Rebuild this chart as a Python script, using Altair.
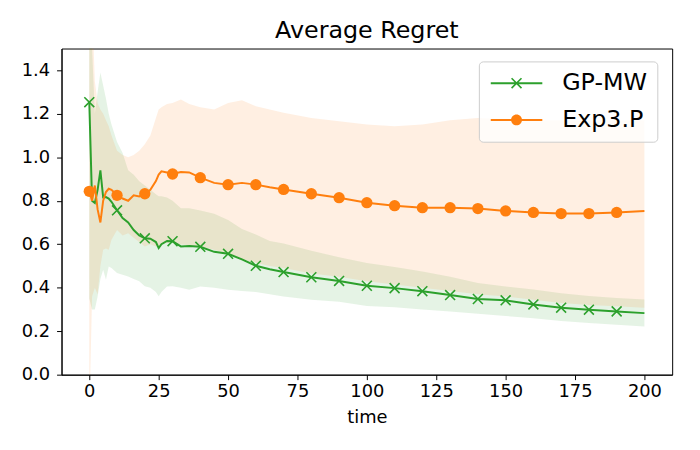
import altair as alt
import pandas as pd

# ---- data ----
times = [0, 1, 2, 3, 4, 5, 6, 7, 8, 10, 12, 14, 16, 18, 20, 22, 24, 25, 26, 28,
         30, 33, 36, 40, 45, 50, 55, 60, 65, 70, 80, 90, 100, 110, 120, 130,
         140, 150, 160, 170, 180, 190, 200]

gp_mean = [1.253, 0.80, 0.79, 0.85, 0.94, 0.815, 0.817, 0.81, 0.795, 0.756,
           0.72, 0.70, 0.665, 0.64, 0.627, 0.625, 0.61, 0.582, 0.60, 0.615,
           0.614, 0.59, 0.592, 0.588, 0.565, 0.556, 0.53, 0.501, 0.485, 0.472,
           0.448, 0.431, 0.409, 0.398, 0.384, 0.366, 0.348, 0.342, 0.323,
           0.308, 0.299, 0.291, 0.283]
gp_lo = [0.35, 0.30, 0.30, 0.36, 0.44, 0.483, 0.437, 0.498, 0.49, 0.468,
         0.46, 0.452, 0.44, 0.43, 0.407, 0.40, 0.38, 0.361, 0.38, 0.405,
         0.407, 0.40, 0.39, 0.405, 0.40, 0.39, 0.385, 0.38, 0.37, 0.36,
         0.345, 0.335, 0.316, 0.31, 0.30, 0.29, 0.28, 0.27, 0.26, 0.247,
         0.238, 0.23, 0.222]
gp_hi = [1.8, 1.5, 1.2, 1.3, 1.39, 1.33, 1.27, 1.2, 1.15, 1.07,
         1.02, 0.94, 0.92, 0.89, 0.87, 0.85, 0.83, 0.82, 0.82, 0.815,
         0.80, 0.765, 0.765, 0.755, 0.74, 0.711, 0.67, 0.645, 0.615, 0.603,
         0.57, 0.54, 0.513, 0.495, 0.475, 0.45, 0.422, 0.405, 0.392, 0.375,
         0.362, 0.353, 0.346]

exp_mean = [0.843, 0.80, 0.87, 0.76, 0.70, 0.80, 0.84, 0.855, 0.85, 0.825,
            0.81, 0.80, 0.825, 0.82, 0.832, 0.85, 0.89, 0.92, 0.935, 0.93,
            0.923, 0.932, 0.93, 0.906, 0.882, 0.874, 0.882, 0.874, 0.862, 0.852,
            0.832, 0.814, 0.791, 0.777, 0.768, 0.768, 0.764, 0.753, 0.746,
            0.741, 0.741, 0.746, 0.753]
exp_lo = [-0.2, 0.36, 0.40, 0.37, 0.50, 0.574, 0.58, 0.574, 0.62, 0.665,
          0.64, 0.65, 0.63, 0.61, 0.589, 0.60, 0.59, 0.59, 0.60, 0.605,
          0.605, 0.60, 0.595, 0.59, 0.575, 0.555, 0.53, 0.515, 0.50, 0.49,
          0.465, 0.45, 0.43, 0.415, 0.40, 0.385, 0.37, 0.36, 0.345, 0.33,
          0.32, 0.315, 0.308]
exp_hi = [1.8, 1.7, 1.35, 1.25, 1.22, 1.2, 1.17, 1.143, 1.1, 1.03,
          1.01, 1.00, 1.01, 1.03, 1.06, 1.10, 1.18, 1.22, 1.23, 1.245,
          1.25, 1.265, 1.245, 1.23, 1.22, 1.25, 1.262, 1.235, 1.22, 1.205,
          1.18, 1.165, 1.15, 1.143, 1.15, 1.17, 1.18, 1.175, 1.17, 1.17,
          1.17, 1.17, 1.17]

series_names = ["GP-MW", "Exp3.P"]
series_colors = ["#2ca02c", "#ff7f0e"]
x_ticks = [0, 25, 50, 75, 100, 125, 150, 175, 200]
y_ticks = [0.0, 0.2, 0.4, 0.6, 0.8, 1.0, 1.2, 1.4]

rows = []
for name, m, lo, hi in [("GP-MW", gp_mean, gp_lo, gp_hi),
                        ("Exp3.P", exp_mean, exp_lo, exp_hi)]:
    for t, a, b, c in zip(times, m, lo, hi):
        rows.append({"t": t, "series": name, "mean": a, "lo": b, "hi": c})
df = pd.DataFrame(rows)
color_of = dict(zip(series_names, series_colors))

FONT = "DejaVu Sans"
X_PATH = "M-1,-1L1,1M-1,1L1,-1"
# legend glyphs (unit = 10px): line segment + marker, drawn as filled outlines
LINE_SEG = "M-2.6,-0.1L2.6,-0.1L2.6,0.1L-2.6,0.1Z"
LEG_X = (LINE_SEG +
         "M-0.443,-0.557L0.557,0.443L0.443,0.557L-0.557,-0.443Z"
         "M-0.443,0.557L-0.557,0.443L0.443,-0.557L0.557,-0.443Z")
LEG_O = LINE_SEG + "M0.55,0A0.55,0.55,0,1,1,-0.55,0A0.55,0.55,0,1,1,0.55,0Z"

yscale = alt.Scale(domain=[0, 1.5], nice=False)
xs = alt.X("t:Q", title="time",
           scale=alt.Scale(domain=[-10, 210], nice=False, zero=False),
           axis=alt.Axis(values=x_ticks, labelFlush=False, labelOverlap=False,
                         labelPadding=3))
ys = alt.Y("mean:Q", title=None, scale=yscale,
           axis=alt.Axis(values=y_ticks, format=".1f", labelFlush=False,
                         labelOverlap=False, labelPadding=7))

base = alt.Chart(df)
marker_filter = "datum.t % 10 == 0 && datum.t < 200"

def sel(name):
    return base.transform_filter(alt.datum.series == name)

def band(name):
    return sel(name).mark_area(opacity=0.12, clip=True,
                               color=color_of[name]).encode(
        x=xs, y=alt.Y("lo:Q", scale=yscale), y2="hi:Q")

def line(name):
    return sel(name).mark_line(strokeWidth=2, clip=True,
                               color=color_of[name]).encode(x=xs, y=ys)

gp_pts = sel("GP-MW").transform_filter(marker_filter).mark_point(
    shape=X_PATH, size=100, strokeWidth=1.6, filled=False, opacity=1,
    clip=True, color=color_of["GP-MW"]).encode(x=xs, y=ys)

exp_pts = sel("Exp3.P").transform_filter(marker_filter).mark_point(
    shape="circle", size=130, filled=True, opacity=1, clip=True,
    color=color_of["Exp3.P"]).encode(x=xs, y=ys)

leg = alt.Legend(orient="none", legendX=421, legendY=13, title=None)
legend_layer = base.transform_filter("datum.t == 200").mark_point(
    filled=True, size=400, opacity=0).encode(
    x=xs, y=ys,
    color=alt.Color("series:N", title=None,
                    scale=alt.Scale(domain=series_names, range=series_colors),
                    legend=leg),
    shape=alt.Shape("series:N", title=None,
                    scale=alt.Scale(domain=series_names, range=[LEG_X, LEG_O]),
                    legend=leg),
)

chart = alt.layer(
    band("GP-MW"), band("Exp3.P"), line("GP-MW"), gp_pts,
    line("Exp3.P"), exp_pts, legend_layer
).properties(
    width=616, height=329,
    title=alt.TitleParams("Average Regret", font=FONT, fontSize=24,
                          fontWeight="normal", color="black", offset=6),
    padding={"left": 54, "top": 39, "right": 20, "bottom": 60},
    autosize=alt.AutoSizeParams(type="none"),
).configure_view(
    stroke="black", strokeWidth=1
).configure_axis(
    grid=False, domainColor="black", tickColor="black", labelColor="black",
    labelFont=FONT, labelFontSize=18, titleFont=FONT, titleFontSize=18,
    titleFontWeight="normal", titleColor="black", tickSize=5,
    titlePadding=8, domainWidth=1, tickWidth=1
).configure_legend(
    labelFont=FONT, labelFontSize=24, labelColor="black",
    symbolSize=400, symbolOpacity=1, symbolStrokeWidth=0, symbolOffset=16,
    fillColor="rgba(255,255,255,0.8)", strokeColor="#cccccc",
    cornerRadius=4, padding=10, labelOffset=34, rowPadding=13
)

chart.save("out.html", embed_options={"renderer": "svg", "actions": False})
